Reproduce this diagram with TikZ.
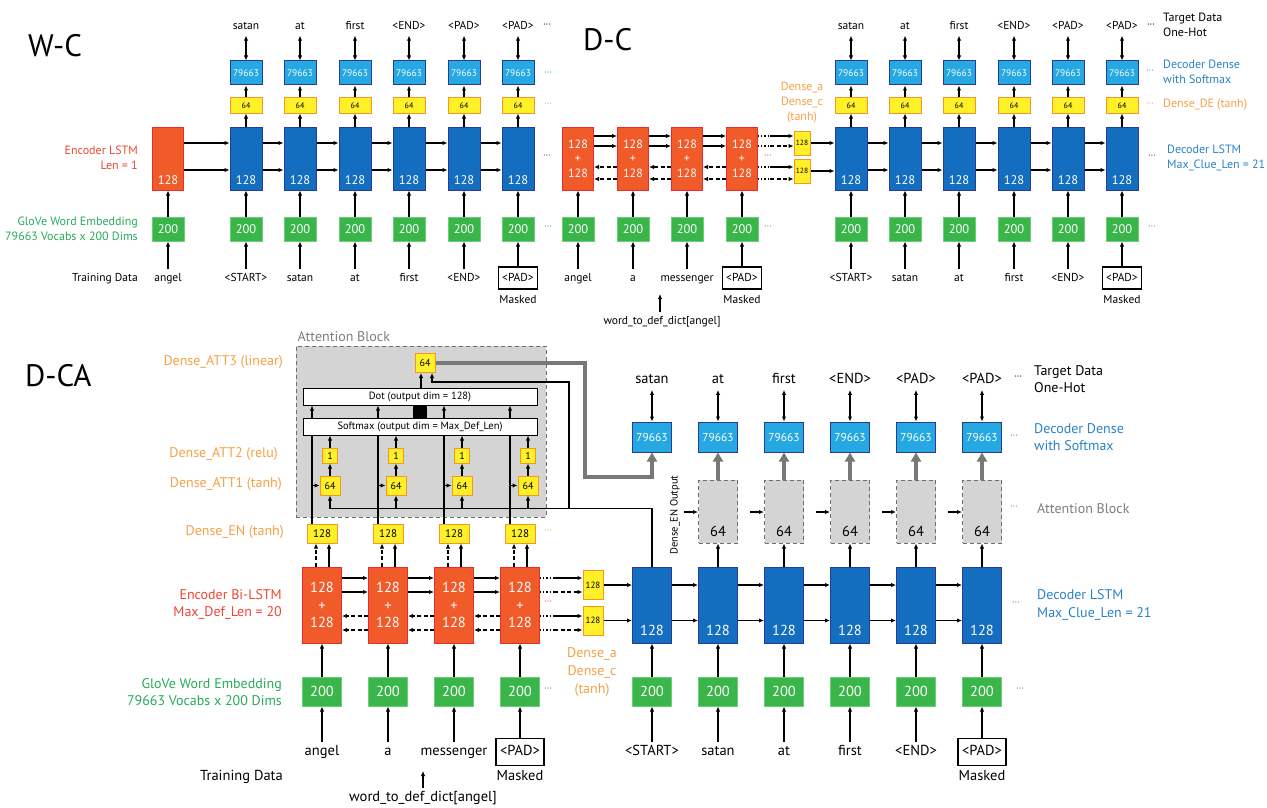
\documentclass[tikz,border=0pt]{standalone}
\usepackage{fontspec}
\setmainfont{PT Sans}
\usetikzlibrary{arrows.meta, positioning, calc}
\definecolor{encred}{RGB}{241,90,41}
\definecolor{encline}{RGB}{232,44,48}
\definecolor{decblue}{RGB}{20,110,192}
\definecolor{decline}{RGB}{40,60,150}
\definecolor{outblue}{RGB}{38,168,226}
\definecolor{ylwfill}{RGB}{255,240,40}
\definecolor{ylwline}{RGB}{246,150,40}
\definecolor{embgreen}{RGB}{57,181,74}
\definecolor{embline}{RGB}{110,205,120}
\definecolor{txtred}{RGB}{238,70,50}
\definecolor{txtgreen}{RGB}{40,170,90}
\definecolor{txtorange}{RGB}{246,160,70}
\definecolor{txtblue}{RGB}{40,130,200}
\definecolor{txtgray}{RGB}{125,125,125}
\definecolor{attfill}{RGB}{212,212,212}
\definecolor{attline}{RGB}{110,110,110}
\definecolor{fatgray}{RGB}{120,120,120}

\begin{document}
\begin{tikzpicture}[x=1pt, y=-1pt,
  blk/.style={rectangle, inner sep=0pt, line width=1pt, align=center},
  lstmc/.style={blk, fill=decblue, draw=decline, text=white},
  encc/.style={blk, fill=encred, draw=encline, text=white},
  outc/.style={blk, fill=outblue, draw=decline, text=white},
  ylwc/.style={blk, fill=ylwfill, draw=ylwline, text=black},
  embc/.style={blk, fill=embgreen, draw=embline, text=white},
  % W-C and D-C rows
  tnum/.style={label={[anchor=south, text=white, inner sep=5.5, font=\fontsize{12.5}{13}\selectfont]south:#1}},
  tenc/.style={encc, minimum width=31, minimum height=63, font=\fontsize{12}{14.5}\selectfont},
  tlstm/.style={lstmc, minimum width=32, minimum height=63},
  tout/.style={outc, minimum width=32, minimum height=24, font=\fontsize{9.5}{10}\selectfont},
  tylw/.style={ylwc, minimum width=32, minimum height=15, font=\fontsize{8}{8}\selectfont},
  tsml/.style={ylwc, minimum width=16, minimum height=24, font=\fontsize{7.5}{8}\selectfont},
  temb/.style={embc, minimum width=32, minimum height=24, font=\fontsize{12.5}{13}\selectfont},
  tword/.style={inner sep=3, text height=8.5, text depth=2.5, font=\fontsize{11.5}{13}\selectfont},
  tmask/.style={draw, line width=1.2pt, inner xsep=3.5, inner ysep=5.5},
  tlab/.style={align=right, anchor=east, inner sep=0, font=\fontsize{12}{15}\selectfont},
  rlab/.style={align=left, anchor=west, inner sep=0, font=\fontsize{12}{15}\selectfont},
  % D-CA rows
  bnum/.style={label={[anchor=south, text=white, inner sep=8, font=\fontsize{14.5}{15}\selectfont]south:#1}},
  gnum/.style={label={[anchor=south, text=black, inner sep=7, font=\fontsize{14.5}{15}\selectfont]south:#1}},
  benc/.style={encc, minimum width=39, minimum height=76, font=\fontsize{14.5}{17.5}\selectfont},
  blstm/.style={lstmc, minimum width=39, minimum height=76},
  bout/.style={outc, minimum width=39, minimum height=30, font=\fontsize{11.5}{12}\selectfont},
  bemb/.style={embc, minimum width=39, minimum height=29, font=\fontsize{14.5}{15}\selectfont},
  bsml/.style={ylwc, minimum width=20, minimum height=29, font=\fontsize{9}{9}\selectfont},
  bden/.style={ylwc, minimum width=30, minimum height=19, font=\fontsize{11}{11}\selectfont},
  batt/.style={ylwc, minimum width=20, minimum height=19, font=\fontsize{10}{10}\selectfont},
  bone/.style={ylwc, minimum width=15, minimum height=15, font=\fontsize{10}{10}\selectfont},
  bgray/.style={blk, fill=attfill, draw=attline, dash pattern=on 4pt off 3pt, minimum width=39, minimum height=63},
  bbar/.style={blk, fill=white, draw=black, minimum width=234, minimum height=17, font=\fontsize{10.5}{11}\selectfont},
  bword/.style={inner sep=3, text height=10.5, text depth=3, font=\fontsize{14.5}{16}\selectfont},
  bmask/.style={draw, line width=1.3pt, inner xsep=4, inner ysep=6.5},
  blab/.style={align=right, anchor=east, inner sep=0, font=\fontsize{14}{17.5}\selectfont},
  brlab/.style={align=left, anchor=west, inner sep=0, font=\fontsize{14}{17.5}\selectfont},
  title/.style={anchor=west, inner sep=0, font=\fontsize{31}{31}\selectfont},
  dts/.style={inner sep=0, font=\fontsize{10}{10}\selectfont},
  arr/.style={-{Latex[length=5pt, width=4.5pt]}, line width=1.1pt},
  darr/.style={{Latex[length=5pt, width=4.5pt]}-{Latex[length=5pt, width=4.5pt]}, line width=1.1pt},
  dsh/.style={arr, dash pattern=on 4pt off 2.5pt},
  dotl/.style={line width=1.2pt, dash pattern=on 1.2pt off 2pt},
  garr/.style={-{Triangle[length=9pt, width=10pt]}, line width=3.5pt, draw=fatgray},
  wire/.style={line width=1.1pt}]

\useasboundingbox (0,0) rectangle (1267,808);

% ================= W-C =================
\node[title] (wctitle) at (28,46) {W-C};
\node[tenc, tnum=128] (wce) at (168,158.5) {};
\node[temb] (wceg) at (168,229) {200};
\node[tword] (wcew) at (168,278) {angel};
\draw[arr] (wceg) -- (wce);
\draw[arr] (wcew) -- (wceg);
\foreach \x/\ow/\iw [count=\i] in {246/satan/{<START>},300/at/satan,355/first/at,409/{<END>}/first,464/{<PAD>}/{<END>},518/{<PAD>}/{<PAD>}}{
  \node[tlstm, tnum=128] (wcd\i) at (\x,158.5) {};
  \node[tylw] (wcy\i) at (\x,105.5) {64};
  \node[tout] (wco\i) at (\x,73) {79663};
  \node[temb] (wcg\i) at (\x,229) {200};
  \node[tword] (wcot\i) at (\x,27) {\ow};
  \ifnum\i<6 \node[tword] (wcin\i) at (\x,278) {\iw};
  \else \node[tword, tmask] (wcin\i) at (\x,278) {\iw}; \fi
  \draw[arr] (wcd\i) -- (wcy\i);
  \draw[arr] (wcy\i) -- (wco\i);
  \draw[darr] (wcot\i) -- (wco\i);
  \draw[arr] (wcg\i) -- (wcd\i);
  \draw[arr] (wcin\i) -- (wcg\i);
}
\draw[arr] (wce.east |- 0,143) -- (wcd1.west |- 0,143);
\draw[arr] (wce.east |- 0,170) -- (wcd1.west |- 0,170);
\foreach \a/\b in {1/2,2/3,3/4,4/5,5/6}{
  \draw[arr] (wcd\a.east |- 0,143) -- (wcd\b.west |- 0,143);
  \draw[arr] (wcd\a.east |- 0,170) -- (wcd\b.west |- 0,170);
}
\node[tword] (wcmask) at (518,300) {Masked};
\node[dts] (wcd1dots) at (547,26) {···};
\node[dts, text=outblue] (wcd2dots) at (548,74) {···};
\node[dts, text=txtorange] (wcd3dots) at (548,105) {···};
\node[dts, text=decline] (wcd4dots) at (547,157) {···};
\node[dts, text=txtgreen] (wcd5dots) at (548,228) {···};
\node[tlab, text=txtred] (wcencl) at (138,157.5) {Encoder LSTM\\Len = 1};
\node[tlab, text=txtgreen] (wcembl) at (138,228.5) {GloVe Word Embedding\\79663 Vocabs x 200 Dims};
\node[tword, anchor=east, inner xsep=0] (wctrain) at (138,278) {Training Data};

% ================= D-C =================
\node[title] (dctitle) at (583,40) {D-C};
\foreach \x/\iw [count=\i] in {578/angel,633/a,687/messenger,742/{<PAD>}}{
  \node[tenc] (dce\i) at (\x,158.5) {128\\+\\128};
  \node[temb] (dceg\i) at (\x,229) {200};
  \ifnum\i<4 \node[tword] (dcew\i) at (\x,278) {\iw};
  \else \node[tword, tmask] (dcew\i) at (\x,278) {\iw}; \fi
  \draw[arr] (dceg\i) -- (dce\i);
  \draw[arr] (dcew\i) -- (dceg\i);
}
\foreach \a/\b in {1/2,2/3,3/4}{
  \draw[arr] (dce\a.east |- 0,136) -- (dce\b.west |- 0,136);
  \draw[arr] (dce\a.east |- 0,146) -- (dce\b.west |- 0,146);
  \draw[dsh] (dce\b.west |- 0,167) -- (dce\a.east |- 0,167);
  \draw[dsh] (dce\b.west |- 0,179) -- (dce\a.east |- 0,179);
}
\node[tsml] (dcha) at (802,143) {128};
\node[tsml] (dchc) at (802,171) {128};
\foreach \y/\h in {136/dcha,167/dchc}{
  \coordinate (dcq\y) at (770,\y);
  \draw[dotl] (dce4.east |- dcq\y) -- (dcq\y);
  \draw[arr] (dcq\y) -- (\h.west |- dcq\y);
}
\foreach \y/\h in {146/dcha,179/dchc}{
  \coordinate (dcq\y) at (770,\y);
  \draw[dotl] (dce4.east |- dcq\y) -- (dcq\y);
  \draw[dsh] (dcq\y) -- (\h.west |- dcq\y);
}
\node[dts, text=txtred] (dcreddots) at (768,157) {···};
\node[dts, text=txtgreen] (dcgrndots) at (768,228) {···};
\node[align=center, inner sep=0, text=txtorange, font=\fontsize{12}{15}\selectfont] (dcdensel) at (802,103) {Dense\_a\\Dense\_c\\(tanh)};
\node[tword] (dcmask) at (742,300) {Masked};
\node[tword] (dcdict) at (662,321) {word\_to\_def\_dict[angel]};
\coordinate (dcdtip) at (660,294);
\draw[arr] (dcdict.north -| dcdtip) -- (dcdtip);

\foreach \x/\ow/\iw [count=\i] in {851/satan/{<START>},905/at/satan,959/first/at,1014/{<END>}/first,1068/{<PAD>}/{<END>},1122/{<PAD>}/{<PAD>}}{
  \node[tlstm, tnum=128] (dcd\i) at (\x,158.5) {};
  \node[tylw] (dcy\i) at (\x,105.5) {64};
  \node[tout] (dco\i) at (\x,73) {79663};
  \node[temb] (dcg\i) at (\x,229) {200};
  \node[tword] (dcot\i) at (\x,27) {\ow};
  \ifnum\i<6 \node[tword] (dcin\i) at (\x,278) {\iw};
  \else \node[tword, tmask] (dcin\i) at (\x,278) {\iw}; \fi
  \draw[arr] (dcd\i) -- (dcy\i);
  \draw[arr] (dcy\i) -- (dco\i);
  \draw[darr] (dcot\i) -- (dco\i);
  \draw[arr] (dcg\i) -- (dcd\i);
  \draw[arr] (dcin\i) -- (dcg\i);
}
\draw[arr] (dcha.east) -- (dcha.east -| dcd1.west);
\draw[arr] (dchc.east) -- (dchc.east -| dcd1.west);
\foreach \a/\b in {1/2,2/3,3/4,4/5,5/6}{
  \draw[arr] (dcd\a.east |- 0,143) -- (dcd\b.west |- 0,143);
  \draw[arr] (dcd\a.east |- 0,170) -- (dcd\b.west |- 0,170);
}
\node[tword] (dcmask2) at (1122,300) {Masked};
\node[dts] (dcrd1) at (1151,26) {···};
\node[dts, text=outblue] (dcrd2) at (1150,72) {···};
\node[dts, text=txtorange] (dcrd3) at (1150,105) {···};
\node[dts, text=decline] (dcrd4) at (1152,157) {···};
\node[dts, text=txtgreen] (dcrd5) at (1152,228) {···};
\node[rlab] (dctarget) at (1163,25) {Target Data\\One-Hot};
\node[rlab, text=txtblue] (dcdense) at (1163,72) {Decoder Dense\\with Softmax};
\node[rlab, text=txtorange] (dcde) at (1163,105) {Dense\_DE (tanh)};
\node[rlab, text=txtblue] (dclstm) at (1167,157.5) {Decoder LSTM\\Max\_Clue\_Len = 21};

% ================= D-CA =================
\node[title] (catitle) at (25,376) {D-CA};
\node[blk, fill=attfill, draw=attline, dash pattern=on 4pt off 3pt, minimum width=250, minimum height=171] (attb) at (421,431.5) {};
\node[anchor=south west, inner xsep=2, inner ysep=4, text=txtgray, font=\fontsize{14}{14}\selectfont] (attbl) at (attb.north west) {Attention Block};
\node[batt] (att3) at (425,363) {64};
\node[bbar] (dotb) at (420,396.5) {Dot (output dim = 128)};
\node[bbar] (smax) at (420,426.5) {Softmax (output dim = Max\_Def\_Len)};
\node[blk, fill=black, minimum width=14, minimum height=13] (blkb) at (420,411.5) {};
\coordinate (feedy) at (0,508.5);

\foreach \x/\iw [count=\i] in {322/angel,388/a,454/messenger,520/{<PAD>}}{
  \node[benc] (cae\i) at (\x,605) {128\\+\\128};
  \node[bemb] (caeg\i) at (\x,691.5) {200};
  \node[bden] (caen\i) at (\x,533.5) {128};
  \node[batt] (caaa\i) at (\x+8,485.5) {64};
  \node[bone] (caab\i) at (\x+8,455.5) {1};
  \coordinate (cal\i) at (\x-10,0);
  \ifnum\i<4 \node[bword] (caew\i) at (\x,752) {\iw};
  \else \node[bword, bmask] (caew\i) at (\x,752) {\iw}; \fi
  \draw[arr] (caeg\i) -- (cae\i);
  \draw[arr] (caew\i) -- (caeg\i);
  \draw[dsh] ([xshift=-6]cae\i.north) -- ([xshift=-6]caen\i.south);
  \draw[arr] ([xshift=7]cae\i.north) -- ([xshift=7]caen\i.south);
  \draw[wire] (caen\i.north -| cal\i) -- (smax.south -| cal\i);
  \draw[arr] (smax.north -| cal\i) -- (dotb.south -| cal\i);
  \draw[arr] (caaa\i.west -| cal\i) -- (caaa\i.west);
  \draw[arr] (caaa\i) -- (caab\i);
  \draw[arr] (caab\i.north) -- (caab\i.north |- smax.south);
  \draw[arr] (caaa\i.south |- feedy) -- (caaa\i.south);
}
\foreach \a/\b in {1/2,2/3,3/4}{
  \draw[arr] (cae\a.east |- 0,578) -- (cae\b.west |- 0,578);
  \draw[arr] (cae\a.east |- 0,592) -- (cae\b.west |- 0,592);
  \draw[dsh] (cae\b.west |- 0,616) -- (cae\a.east |- 0,616);
  \draw[dsh] (cae\b.west |- 0,630) -- (cae\a.east |- 0,630);
}
\node[bsml] (caha) at (593,585) {128};
\node[bsml] (cahc) at (593,620.5) {128};
\foreach \y/\h in {578/caha,616/cahc}{
  \coordinate (caq\y) at (554,\y);
  \draw[dotl] (cae4.east |- caq\y) -- (caq\y);
  \draw[arr] (caq\y) -- (\h.west |- caq\y);
}
\foreach \y/\h in {592/caha,630/cahc}{
  \coordinate (caq\y) at (554,\y);
  \draw[dotl] (cae4.east |- caq\y) -- (caq\y);
  \draw[dsh] (caq\y) -- (\h.west |- caq\y);
}
\node[dts, text=txtred] (careddots) at (548,603) {···};
\node[dts, text=txtgreen] (cagrndots) at (548,690) {···};
\node[dts, text=txtorange] (caendots) at (548,532) {···};
\node[align=center, inner sep=0, text=txtorange, font=\fontsize{14}{18}\selectfont] (cadensel) at (592,672) {Dense\_a\\Dense\_c\\(tanh)};
\node[bword] (camask) at (520,777) {Masked};
\node[bword] (cadict) at (423,798) {word\_to\_def\_dict[angel]};
\coordinate (cadtip) at (423,771);
\draw[arr] (cadict.north -| cadtip) -- (cadtip);

% attention wiring
\draw[arr] ([xshift=-4]att3.south |- dotb.north) -- ([xshift=-4]att3.south);
\coordinate (fork) at (569,508.5);
\coordinate (gbend) at (585,477);

\foreach \x/\ow/\iw [count=\i] in {652/satan/{<START>},718/at/satan,784/first/at,850/{<END>}/first,916/{<PAD>}/{<END>},982/{<PAD>}/{<PAD>}}{
  \node[blstm, bnum=128] (cad\i) at (\x,605) {};
  \node[bemb] (cag\i) at (\x,691.5) {200};
  \node[bout] (cao\i) at (\x,437) {79663};
  \node[bword] (caot\i) at (\x,380) {\ow};
  \ifnum\i<6 \node[bword] (cain\i) at (\x,752) {\iw};
  \else \node[bword, bmask] (cain\i) at (\x,752) {\iw}; \fi
  \draw[arr] (cag\i) -- (cad\i);
  \draw[arr] (cain\i) -- (cag\i);
  \draw[darr] (caot\i) -- (cao\i);
  \ifnum\i>1
    \node[bgray, gnum=64] (cagr\i) at (\x,511.5) {};
    \coordinate (cak\i) at (\x-34,512);
    \draw[arr] (cad\i) -- (cagr\i);
    \draw[garr] (cagr\i) -- (cao\i);
    \draw[arr] (cak\i) -- (cagr\i.west |- cak\i);
  \fi
}
\draw[wire] (cad1.north) |- (caaa1.south |- feedy);
\draw[arr] (fork) |- ($(att3.south)+(7,9)$) -- ($(att3.south)+(7,0)$);
\draw[garr] (att3.east) -| (gbend) -| (cao1.south);
\draw[arr] (caha.east) -- (caha.east -| cad1.west);
\draw[arr] (cahc.east) -- (cahc.east -| cad1.west);
\foreach \a/\b in {1/2,2/3,3/4,4/5,5/6}{
  \draw[arr] (cad\a.east |- 0,585) -- (cad\b.west |- 0,585);
  \draw[arr] (cad\a.east |- 0,620.5) -- (cad\b.west |- 0,620.5);
}
\node[rotate=90, inner sep=0, font=\fontsize{10.5}{11}\selectfont] (caenout) at (675,515) {Dense\_EN Output};
\node[bword] (camask2) at (982,777) {Masked};

% D-CA side labels
\node[blab, text=txtorange] (cal3) at (283,362) {Dense\_ATT3 (linear)};
\node[blab, text=txtorange] (cal2) at (278,454) {Dense\_ATT2 (relu)};
\node[blab, text=txtorange] (cal1) at (282,484) {Dense\_ATT1 (tanh)};
\node[blab, text=txtorange] (calen) at (284,532) {Dense\_EN (tanh)};
\node[blab, text=txtred] (calenc) at (282,604.5) {Encoder Bi-LSTM\\Max\_Def\_Len = 20};
\node[blab, text=txtgreen] (calemb) at (282,692) {GloVe Word Embedding\\79663 Vocabs x 200 Dims};
\node[bword, anchor=east, inner xsep=0] (catrain) at (283,777) {Training Data};
\node[dts] (card1) at (1018,378) {···};
\node[dts, text=txtblue] (card2) at (1014,437) {···};
\node[dts, text=txtgray] (card3) at (1014,508) {···};
\node[dts, text=txtblue] (card4) at (1016,604) {···};
\node[dts, text=txtgreen] (card5) at (1020,690) {···};
\node[brlab] (catarget) at (1034,379) {Target Data\\One-Hot};
\node[brlab, text=txtblue] (cadense) at (1034,437) {Decoder Dense\\with Softmax};
\node[brlab, text=txtgray] (caattl) at (1037,509) {Attention Block};
\node[brlab, text=txtblue] (calstm) at (1037,605) {Decoder LSTM\\Max\_Clue\_Len = 21};
\end{tikzpicture}
\end{document}
